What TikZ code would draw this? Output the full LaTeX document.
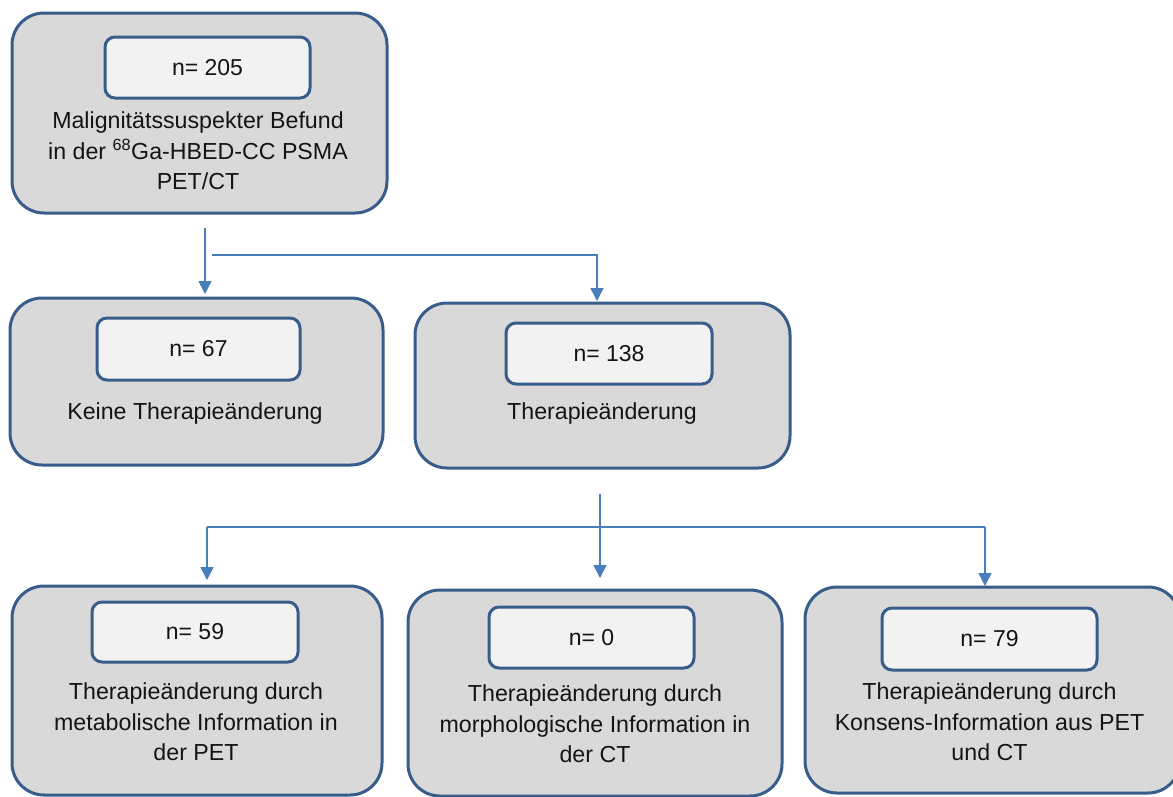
\documentclass[tikz,border=0pt]{standalone}
\usepackage{fontspec}
\setmainfont{Liberation Sans}
\usetikzlibrary{arrows.meta}
\definecolor{bordc}{RGB}{56,93,138}
\definecolor{outfill}{RGB}{217,217,217}
\definecolor{infill}{RGB}{242,242,242}
\definecolor{linec}{RGB}{74,126,187}
\definecolor{txt}{RGB}{20,20,20}
\tikzset{
  outerbox/.style={draw=bordc, line width=3pt, fill=outfill, rounded corners=32pt, inner sep=0pt, rectangle},
  innerbox/.style={draw=bordc, line width=3pt, fill=infill, rounded corners=10pt, inner sep=0pt, rectangle, font=\fontsize{23}{30}\selectfont, text=txt},
  label/.style={align=center, inner sep=0pt, font=\fontsize{23.2}{30.5}\selectfont, text=txt},
  arr/.style={draw=linec, line width=1.5pt, -{Triangle[width=13pt,length=13pt]}},
  plainline/.style={draw=linec, line width=1.5pt}
}
\begin{document}
\begin{tikzpicture}[x=1pt,y=-1pt]
\useasboundingbox (0,0) rectangle (1173,796);
\clip (0,0) rectangle (1173,796);
% outer boxes
\node[outerbox, minimum width=375pt, minimum height=200pt] (b1) at (199.5,113) {};
\node[outerbox, minimum width=373pt, minimum height=167pt] (b2) at (196.5,381.5) {};
\node[outerbox, minimum width=375pt, minimum height=165pt] (b3) at (602.5,385.5) {};
\node[outerbox, minimum width=370pt, minimum height=209pt] (b4) at (197,690.5) {};
\node[outerbox, minimum width=374pt, minimum height=206pt] (b5) at (595,693) {};
\node[outerbox, minimum width=375pt, minimum height=206pt] (b6) at (992.5,690) {};
% inner boxes
\node[innerbox, minimum width=205pt, minimum height=61pt] (i1) at (207.5,67.5) {n= 205};
\node[innerbox, minimum width=203pt, minimum height=62pt] (i2) at (198.5,349) {n= 67};
\node[innerbox, minimum width=206pt, minimum height=61pt] (i3) at (609,353.5) {n= 138};
\node[innerbox, minimum width=206pt, minimum height=60pt] (i4) at (195,632) {n= 59};
\node[innerbox, minimum width=205pt, minimum height=61pt] (i5) at (591.5,637.5) {n= 0};
\node[innerbox, minimum width=215pt, minimum height=62pt] (i6) at (989.5,639) {n= 79};
% labels
\node[label] (t1) at (198,151) {Malignitätssuspekter Befund\\in der \textsuperscript{68}Ga-HBED-CC PSMA\\PET/CT};
\node[label] (t2) at (195,413) {Keine Therapieänderung};
\node[label] (t3) at (602,413) {Therapieänderung};
\node[label] (t4) at (196,722) {Therapieänderung durch\\metabolische Information in\\der PET};
\node[label] (t5) at (595,724) {Therapieänderung durch\\morphologische Information in\\der CT};
\node[label] (t6) at (989.5,722) {Therapieänderung durch\\Konsens-Information aus PET\\und CT};
% connector points
\coordinate (s1) at (205,228);
\coordinate (e1) at (205,294);
\coordinate (s2) at (212,255);
\coordinate (k2) at (597,255);
\coordinate (e2) at (597,301);
\coordinate (s3) at (600,494);
\coordinate (e3) at (600,578);
\coordinate (s4) at (207,527);
\coordinate (e4) at (207,580);
\coordinate (k6) at (985,527);
\coordinate (e6) at (985,586);
% connectors
\draw[arr] (s1) -- (e1);
\draw[arr] (s2) -- (k2) -- (e2);
\draw[arr] (s3) -- (e3);
\draw[arr] (s4) -- (e4);
\draw[plainline] (s4) -- (k6);
\draw[arr] (k6) -- (e6);
\end{tikzpicture}
\end{document}
